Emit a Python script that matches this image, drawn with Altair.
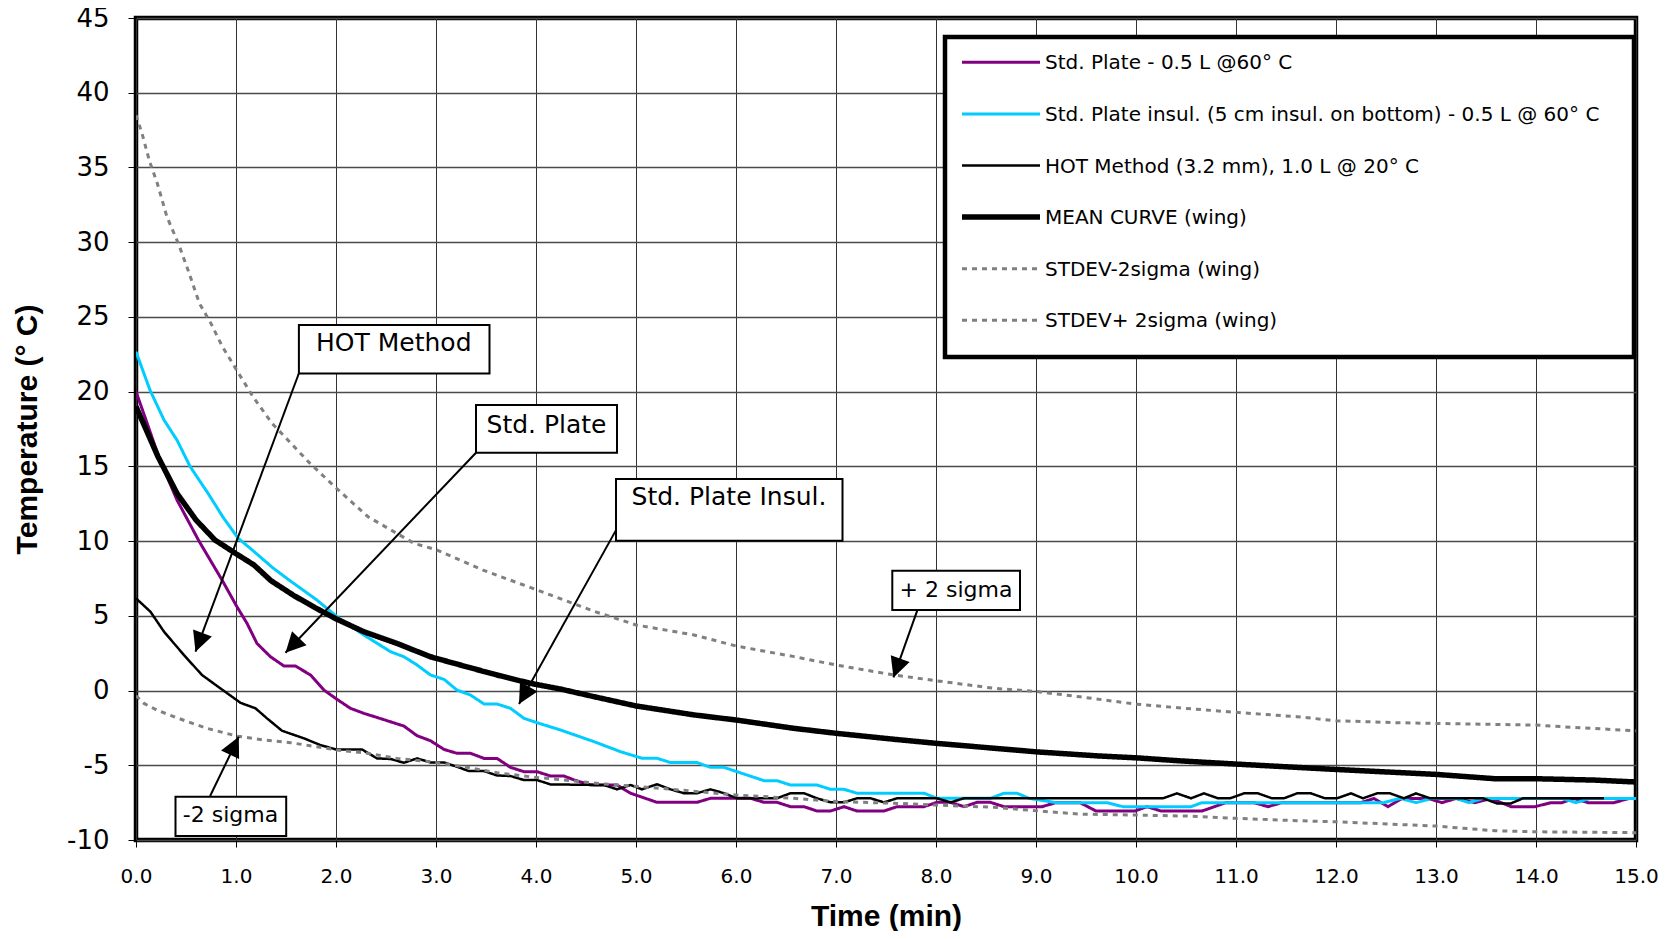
import math
import altair as alt
import pandas as pd

# ---------------- data ----------------
plate_t = [0.0, 0.10, 0.24, 0.41, 0.63, 0.745, 0.86, 1.01, 1.11, 1.21, 1.345, 1.48, 1.595, 1.745, 1.88,
           2.01, 2.145, 2.28, 2.41, 2.545, 2.68, 2.81, 2.945, 3.08, 3.21, 3.345, 3.48, 3.61, 3.745, 3.88,
           4.01, 4.145, 4.28, 4.38, 4.545, 4.81, 4.945, 5.21, 5.61, 5.745, 6.145, 6.28, 6.41, 6.545, 6.68,
           6.81, 6.945, 7.08, 7.21, 7.48, 7.61, 7.88, 8.01, 8.145, 8.28, 8.41, 8.545, 8.68, 9.06, 9.20,
           9.44, 9.60, 9.99, 10.11, 10.25, 10.66, 10.90, 11.18, 11.32, 11.46, 12.25, 12.38, 12.52, 12.66,
           12.92, 13.06, 13.20, 13.39, 13.55, 13.75, 13.99, 14.15, 14.26, 14.38, 14.52, 14.78, 14.93, 15.0]
plate_y = [20.0, 18.1, 15.4, 12.75, 10.0, 8.7, 7.4, 5.6, 4.5, 3.15, 2.26, 1.64, 1.64, 1.04, 0.03,
           -0.59, -1.19, -1.53, -1.80, -2.09, -2.38, -3.02, -3.36, -3.94, -4.20, -4.20, -4.54, -4.54, -5.14, -5.43,
           -5.43, -5.72, -5.72, -5.98, -6.32, -6.32, -6.87, -7.48, -7.48, -7.21, -7.21, -7.48, -7.48, -7.77, -7.77,
           -8.06, -8.06, -7.77, -8.06, -8.06, -7.77, -7.77, -7.48, -7.48, -7.77, -7.48, -7.48, -7.77, -7.77, -7.5,
           -7.5, -8.06, -8.06, -7.77, -8.06, -8.06, -7.5, -7.5, -7.77, -7.5, -7.5, -7.22, -7.77, -7.22,
           -7.22, -7.5, -7.22, -7.5, -7.22, -7.77, -7.77, -7.5, -7.5, -7.22, -7.5, -7.5, -7.22, -7.22]

insul_t = [0.0, 0.14, 0.28, 0.41, 0.54, 0.72, 0.87, 1.02, 1.18, 1.37, 1.55, 1.81, 2.01, 2.28, 2.545, 2.68,
           2.81, 2.945, 3.08, 3.21, 3.345, 3.48, 3.61, 3.745, 3.88, 4.01, 4.245, 4.58, 4.845, 5.06, 5.21,
           5.345, 5.61, 5.745, 5.88, 6.01, 6.28, 6.41, 6.545, 6.81, 6.945, 7.08, 7.21, 7.88, 8.01, 8.545,
           8.68, 8.81, 8.93, 9.2, 9.71, 9.87, 10.55, 10.66, 12.48, 12.64, 12.80, 12.96, 13.2, 13.33, 13.47,
           14.26, 14.4, 14.54, 15.0]
insul_y = [22.67, 20.1, 18.1, 16.76, 15.0, 13.2, 11.6, 10.2, 9.3, 8.2, 7.3, 6.05, 4.94, 3.71, 2.6, 2.26,
           1.71, 1.04, 0.75, 0.03, -0.30, -0.90, -0.90, -1.19, -1.86, -2.15, -2.64, -3.42, -4.09, -4.53, -4.53,
           -4.82, -4.82, -5.14, -5.14, -5.43, -6.03, -6.03, -6.32, -6.32, -6.61, -6.61, -6.87, -6.87, -7.21, -7.21,
           -6.87, -6.87, -7.21, -7.5, -7.5, -7.77, -7.77, -7.5, -7.5, -7.22, -7.5, -7.22, -7.22, -7.5, -7.22,
           -7.22, -7.5, -7.22, -7.22]

hot_t = [0.0, 0.145, 0.28, 0.48, 0.66, 0.845, 1.045, 1.195, 1.31, 1.46, 1.68, 1.845, 2.0, 2.26, 2.41,
         2.545, 2.68, 2.81, 2.945, 3.08, 3.21, 3.33, 3.48, 3.61, 3.745, 3.88, 4.01, 4.145, 4.68, 4.81,
         4.945, 5.06, 5.21, 5.345, 5.48, 5.61, 5.745, 5.88, 6.01, 6.41, 6.545, 6.68, 6.81, 6.945, 7.08,
         7.21, 7.345, 7.48, 7.61, 8.01, 8.145, 8.28, 10.27, 10.41, 10.55, 10.68, 10.82, 10.94, 11.08,
         11.22, 11.36, 11.48, 11.61, 11.75, 11.89, 12.01, 12.15, 12.27, 12.41, 12.54, 12.68, 12.80,
         12.94, 13.47, 13.61, 13.75, 13.87, 14.68]
hot_y = [6.17, 5.27, 3.94, 2.37, 1.04, 0.14, -0.82, -1.19, -1.86, -2.69, -3.20, -3.65, -3.94, -3.94, -4.54,
         -4.58, -4.83, -4.54, -4.81, -4.81, -5.10, -5.39, -5.39, -5.68, -5.72, -5.99, -5.99, -6.28, -6.32, -6.61,
         -6.32, -6.61, -6.27, -6.61, -6.87, -6.87, -6.61, -6.87, -7.21, -7.21, -6.87, -6.87, -7.21, -7.48, -7.48,
         -7.21, -7.21, -7.48, -7.21, -7.21, -7.48, -7.21, -7.21, -6.88, -7.21, -6.88, -7.21, -7.21, -6.88,
         -6.88, -7.21, -7.21, -6.88, -6.88, -7.21, -7.21, -6.88, -7.21, -6.88, -6.88, -7.21, -6.88,
         -7.21, -7.21, -7.55, -7.55, -7.21, -7.21]

mean_t = [0.0, 0.22, 0.41, 0.60, 0.79, 0.99, 1.18, 1.35, 1.58, 1.79, 2.0, 2.28, 2.61, 2.945, 3.28, 3.61,
          3.945, 4.245, 4.58, 5.0, 5.58, 6.0, 6.58, 7.0, 7.58, 8.0, 8.58, 9.0, 9.635, 10.0, 10.43, 11.0,
          11.61, 12.0, 13.0, 13.59, 14.0, 14.58, 15.0]
mean_y = [19.0, 15.65, 13.19, 11.41, 10.07, 9.2, 8.4, 7.35, 6.35, 5.55, 4.8, 3.93, 3.15, 2.26, 1.64, 1.04,
          0.48, 0.1, -0.41, -1.03, -1.63, -1.97, -2.53, -2.86, -3.26, -3.53, -3.86, -4.1, -4.38, -4.50, -4.70, -4.92,
          -5.14, -5.28, -5.61, -5.90, -5.90, -5.99, -6.12]

minus_t = [0.0, 0.08, 0.21, 0.38, 0.545, 0.71, 0.88, 1.01, 1.28, 1.545, 1.81, 2.01, 2.28, 2.61, 2.945, 3.28,
           3.61, 3.945, 4.28, 4.68, 5.245, 6.0, 6.58, 7.0, 7.58, 8.0, 8.58, 8.92, 9.44, 10.0, 10.51, 11.0,
           11.61, 12.0, 13.0, 13.59, 14.0, 15.0]
minus_y = [-0.35, -0.86, -1.31, -1.75, -2.15, -2.53, -2.82, -3.05, -3.31, -3.49, -3.76, -3.98, -4.16, -4.54,
           -4.76, -5.10, -5.50, -5.77, -5.99, -6.25, -6.54, -6.99, -7.21, -7.43, -7.54, -7.66, -7.81, -8.0, -8.27,
           -8.33, -8.40, -8.55, -8.71, -8.78, -9.07, -9.38, -9.45, -9.51]

plus_t = [0.0, 0.06, 0.136, 0.213, 0.309, 0.423, 0.52, 0.634, 0.749, 0.864, 1.01, 1.17, 1.36, 1.55, 1.74,
          2.01, 2.32, 2.78, 3.01, 3.47, 4.01, 4.58, 5.0, 5.58, 6.0, 6.58, 7.0, 7.58, 8.0, 8.58, 9.01, 9.44,
          10.0, 10.51, 11.0, 11.61, 12.0, 12.6, 13.0, 14.0, 14.38, 15.0]
plus_y = [38.5, 37.28, 35.39, 33.94, 31.7, 29.92, 28.14, 25.91, 24.57, 23.01, 21.4, 19.66, 17.88, 16.54, 15.2,
          13.5, 11.63, 9.85, 9.4, 8.06, 6.73, 5.3, 4.39, 3.72, 2.98, 2.27, 1.71, 1.04, 0.66, 0.15, -0.07, -0.42,
          -0.91, -1.20, -1.46, -1.75, -2.02, -2.15, -2.20, -2.31, -2.47, -2.69]

series_names = [
    "Std. Plate - 0.5 L @60° C",
    "Std. Plate insul. (5 cm insul. on bottom) - 0.5 L @ 60° C",
    "HOT Method (3.2 mm), 1.0 L @ 20° C",
    "MEAN CURVE (wing)",
    "STDEV-2sigma (wing)",
    "STDEV+ 2sigma (wing)",
]
series_t = [plate_t, insul_t, hot_t, mean_t, minus_t, plus_t]
series_y = [plate_y, insul_y, hot_y, mean_y, minus_y, plus_y]
series_colors = ["#800080", "#00CCFF", "#000000", "#000000", "#808080", "#808080"]
series_widths = [3, 3, 2.5, 5.5, 3, 3]
series_dash = [[1, 0], [1, 0], [1, 0], [1, 0], [5, 5], [5, 5]]

x_ticks = list(range(0, 16))
y_ticks = list(range(-10, 50, 5))

# annotations (callouts)
ann_text = ["HOT Method", "Std. Plate", "Std. Plate Insul.", "+ 2 sigma", "-2 sigma"]
ann_size = [25, 25, 25, 22, 22]
ann_x0 = [1.629, 3.40, 4.80, 7.563, 0.395]
ann_x1 = [3.535, 4.81, 7.065, 8.84, 1.502]
ann_ytop = [24.46, 19.1, 14.15, 8.02, -7.1]
ann_ybot = [21.22, 15.91, 10.03, 5.39, -9.74]
ann_tx = [2.578, 4.105, 5.93, 8.20, 0.945]
ann_ty = [23.23, 17.77, 12.95, 6.75, -8.35]
arr_sx = [1.629, 3.40, 4.81, 7.82, 0.741]
arr_sy = [21.23, 15.91, 10.85, 5.5, -7.06]
arr_ex = [0.595, 1.495, 3.83, 7.575, 1.028]
arr_ey = [2.6, 2.53, -0.9, 0.88, -3.09]

# ---------------- layout ----------------
W, H = 1500, 822
X_DOM = [0, 15]
Y_DOM = [-10, 45]
px_x = W / (X_DOM[1] - X_DOM[0])
px_y = H / (Y_DOM[1] - Y_DOM[0])

xs = alt.Scale(domain=X_DOM, nice=False, zero=False)
ys = alt.Scale(domain=Y_DOM, nice=False, zero=False)

x_axis = alt.Axis(values=x_ticks, format=".1f", grid=True, gridColor="#333333", gridWidth=1,
                  domain=False, tickSize=7, tickColor="#000000", tickWidth=1, labelFlush=False,
                  labelFont="DejaVu Sans", labelFontSize=20, labelColor="#000000", labelPadding=19,
                  title="Time (min)", titleFont="Liberation Sans", titleFontWeight="bold",
                  titleFontSize=30, titleColor="#000000", titleX=W / 2, titleY=76,
                  titleBaseline="middle", titleAlign="center")
y_axis = alt.Axis(values=y_ticks, grid=True, gridColor="#4a4a4a", gridWidth=1.3,
                  domain=False, tickSize=8, tickColor="#000000", tickWidth=1, labelFlush=False,
                  labelExpr="datum.value < 0 ? '-' + abs(datum.value) : '' + datum.value",
                  labelFont="DejaVu Sans", labelFontSize=26, labelColor="#000000", labelPadding=19,
                  title="Temperature (° C)", titleFont="Liberation Sans", titleFontWeight="bold",
                  titleFontSize=30, titleColor="#000000", titleAngle=270, titleX=-109, titleY=H / 2,
                  titleBaseline="middle", titleAlign="center")


def X(f):
    return alt.X(f, type="quantitative", scale=xs, axis=x_axis)


def Y(f):
    return alt.Y(f, type="quantitative", scale=ys, axis=y_axis)


layers = []
for name, tt, yy, col, wd, ds in zip(series_names, series_t, series_y, series_colors, series_widths, series_dash):
    d = pd.DataFrame({"t": tt, "temp": yy, "series": name})
    layers.append(
        alt.Chart(d).mark_line(color=col, strokeWidth=wd, strokeDash=ds, clip=True).encode(
            x=X("t"), y=Y("temp"), order="t:Q")
    )

# arrows
ang = []
for sx, sy, ex, ey in zip(arr_sx, arr_sy, arr_ex, arr_ey):
    dx = (ex - sx) * px_x
    dy = -(ey - sy) * px_y
    ang.append(math.degrees(math.atan2(dx, -dy)) % 360)

ann = pd.DataFrame({"label": ann_text, "size": ann_size, "x0": ann_x0, "x1": ann_x1, "ytop": ann_ytop,
                    "ybot": ann_ybot, "tx": ann_tx, "ty": ann_ty, "sx": arr_sx, "sy": arr_sy,
                    "ex": arr_ex, "ey": arr_ey, "ang": ang})

shafts = alt.Chart(ann).mark_rule(color="#000000", strokeWidth=2).encode(
    x=X("sx"), y=Y("sy"), x2="ex", y2="ey")
heads = alt.Chart(ann).mark_point(shape="M0,0L0.5,1L-0.5,1Z", filled=True, size=1600, color="#000000",
                                  opacity=1, strokeWidth=0).encode(
    x=X("ex"), y=Y("ey"), angle=alt.Angle("ang:Q", scale=None))
boxes = alt.Chart(ann).mark_rect(fill="#ffffff", stroke="#000000", strokeWidth=2).encode(
    x=X("x0"), x2="x1", y=Y("ytop"), y2="ybot")
texts = alt.Chart(ann).mark_text(font="DejaVu Sans", color="#000000", align="center",
                                 baseline="middle").encode(
    x=X("tx"), y=Y("ty"), text="label:N", size=alt.Size("size:Q", scale=None))
layers += [shafts, heads, boxes, texts]

# legend (drawn box with sample lines)
one = pd.DataFrame({"k": [0]})
layers.append(alt.Chart(one).mark_rect(fill="#ffffff", stroke="#000000", strokeWidth=4.5).encode(
    x=alt.value(809), x2=alt.value(1498), y=alt.value(19), y2=alt.value(339)))
for i, (name, col, wd, ds) in enumerate(zip(series_names, series_colors, series_widths, series_dash)):
    ly = 44.3 + i * 51.6
    layers.append(alt.Chart(one).mark_rule(color=col, strokeWidth=wd, strokeDash=ds).encode(
        x=alt.value(826), x2=alt.value(904), y=alt.value(ly)))
    layers.append(alt.Chart(one).mark_text(text=name, font="DejaVu Sans", fontSize=20, color="#000000",
                                           align="left", baseline="middle").encode(
        x=alt.value(909), y=alt.value(ly + 1)))

chart = alt.layer(*layers).properties(
    width=W, height=H,
    autosize=alt.AutoSizeParams(type="none"),
    padding={"left": 128, "top": 10, "right": 27, "bottom": 91},
    background="#ffffff",
).configure_view(stroke="#000000", strokeWidth=4.5)

chart.save("out.html", embed_options={"renderer": "svg", "actions": False})
